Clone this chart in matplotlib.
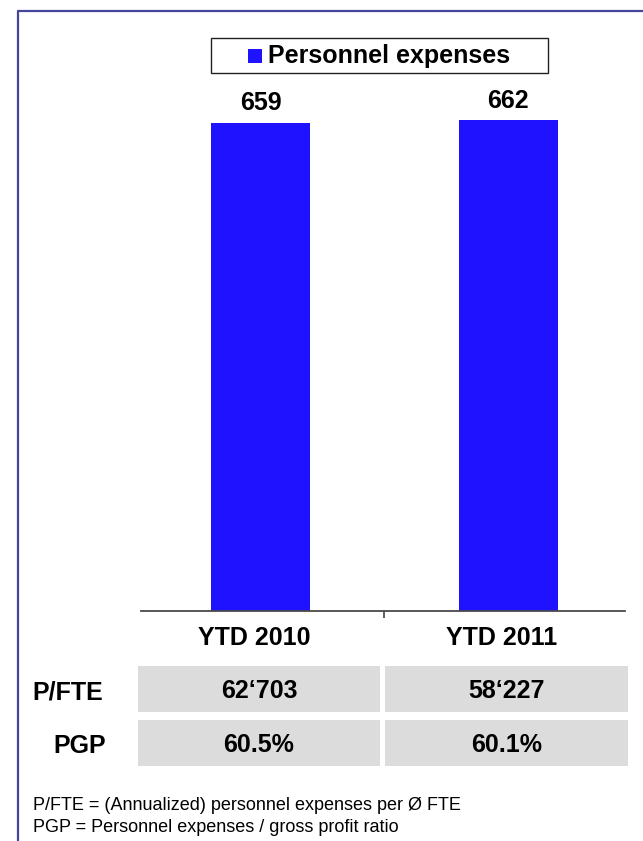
import matplotlib
matplotlib.use("Agg")
import matplotlib.pyplot as plt
from matplotlib.patches import Rectangle
from matplotlib.lines import Line2D
from matplotlib.transforms import blended_transform_factory

# ---- data ----
categories = ["YTD 2010", "YTD 2011"]
personnel_expenses = [659, 662]
series_name = "Personnel expenses"
row_labels = ["P/FTE", "PGP"]
pfte_values = ["62\u2018703", "58\u2018227"]
pgp_values = ["60.5%", "60.1%"]
footnotes = ["P/FTE = (Annualized) personnel expenses per \u00d8 FTE",
             "PGP = Personnel expenses / gross profit ratio"]

W, H = 643, 841
DPI = 100
plt.rcParams['font.family'] = ['Liberation Sans', 'DejaVu Sans']

BAR_COLOR = '#1e12ff'
CELL_COLOR = '#dcdcdc'
FRAME_COLOR = '#45459a'

fig = plt.figure(figsize=(W / DPI, H / DPI), dpi=DPI)
fig.patch.set_facecolor('white')

def fx(px):
    return px / W

def fy(py):
    return 1 - py / H

# x scale shared between chart and table: category centers at 260.5 and 508 px
C0, UNIT = 260.5, 247.5

def xl(px):
    return (px - C0) / UNIT

# ---- bar chart axes ----
ax_l, ax_r, ax_t, ax_b = 141, 625, 30, 610.7
ax = fig.add_axes([fx(ax_l), fy(ax_b), fx(ax_r - ax_l), (ax_b - ax_t) / H])
x = list(range(len(categories)))
ax.bar(x, personnel_expenses, width=0.40, color=BAR_COLOR, edgecolor='none', zorder=2)
ax.set_xlim(xl(ax_l), xl(ax_r))
ax.set_ylim(0, (ax_b - ax_t) / 0.7405)
for s in ['top', 'right', 'left']:
    ax.spines[s].set_visible(False)
ax.spines['bottom'].set_color('#4a4a4a')
ax.spines['bottom'].set_linewidth(1.3)
ax.set_yticks([])
ax.set_xticks([0.5])
ax.set_xticklabels([])
ax.tick_params(axis='x', length=5, width=1.1, color='#333333', direction='out')
ax.patch.set_alpha(0)

for xi, v in zip(x, personnel_expenses):
    ax.annotate(f"{v}", (xi, v), xytext=(0, 14), textcoords='offset points',
                ha='center', va='center', fontsize=18, fontweight='bold')

# category labels (slightly left of bar centres as in the reference)
for xi, c in zip(x, categories):
    ax.annotate(c, (xi, 0), xytext=(-4.5, -20), textcoords='offset points',
                ha='center', va='center', fontsize=18, fontweight='bold',
                annotation_clip=False)

# ---- legend box (manual) ----
fig.add_artist(Rectangle((fx(211), fy(72.7)), fx(548 - 211), (72.7 - 37.7) / H,
                         transform=fig.transFigure, facecolor='white',
                         edgecolor='#222222', linewidth=1.0))
fig.add_artist(Rectangle((fx(248), fy(63)), fx(14), 14 / H,
                         transform=fig.transFigure, facecolor=BAR_COLOR,
                         edgecolor='none'))
fig.text(fx(268), fy(56), series_name, ha='left', va='center',
         fontsize=18, fontweight='bold')

# ---- table axes ----
t_l, t_r, t_t, t_b = 130, 635, 662, 770
tab = fig.add_axes([fx(t_l), fy(t_b), fx(t_r - t_l), (t_b - t_t) / H])
tab.set_xlim(xl(t_l), xl(t_r))
tab.set_ylim(1.5, -0.5)
tab.axis('off')
rows = [pfte_values, pgp_values]
cell_w = 0.978
cell_h = 46 / 54
for ri, vals in enumerate(rows):
    for ci, val in enumerate(vals):
        cx = ci - 0.006
        tab.add_patch(Rectangle((cx - cell_w / 2, ri - cell_h / 2), cell_w, cell_h,
                                facecolor=CELL_COLOR, edgecolor='none'))
        tab.text(cx, ri + 0.03, val, ha='center', va='center',
                 fontsize=18, fontweight='bold')

blend = blended_transform_factory(fig.transFigure, tab.transData)
label_x = [67.5, 80]
for ri, (lab, lx) in enumerate(zip(row_labels, label_x)):
    tab.text(fx(lx), ri + 0.06, lab, transform=blend, ha='center', va='center',
             fontsize=18, fontweight='bold')

# ---- footnotes ----
for i, t in enumerate(footnotes):
    fig.text(fx(33), fy(805 + 23 * i), t, ha='left', va='center', fontsize=13)

# ---- outer frame ----
fig.add_artist(Line2D([fx(18), fx(18), fx(643)], [fy(841), fy(11), fy(11)],
                      transform=fig.transFigure, color=FRAME_COLOR, linewidth=1.6))

fig.savefig('out.png', dpi=DPI)
